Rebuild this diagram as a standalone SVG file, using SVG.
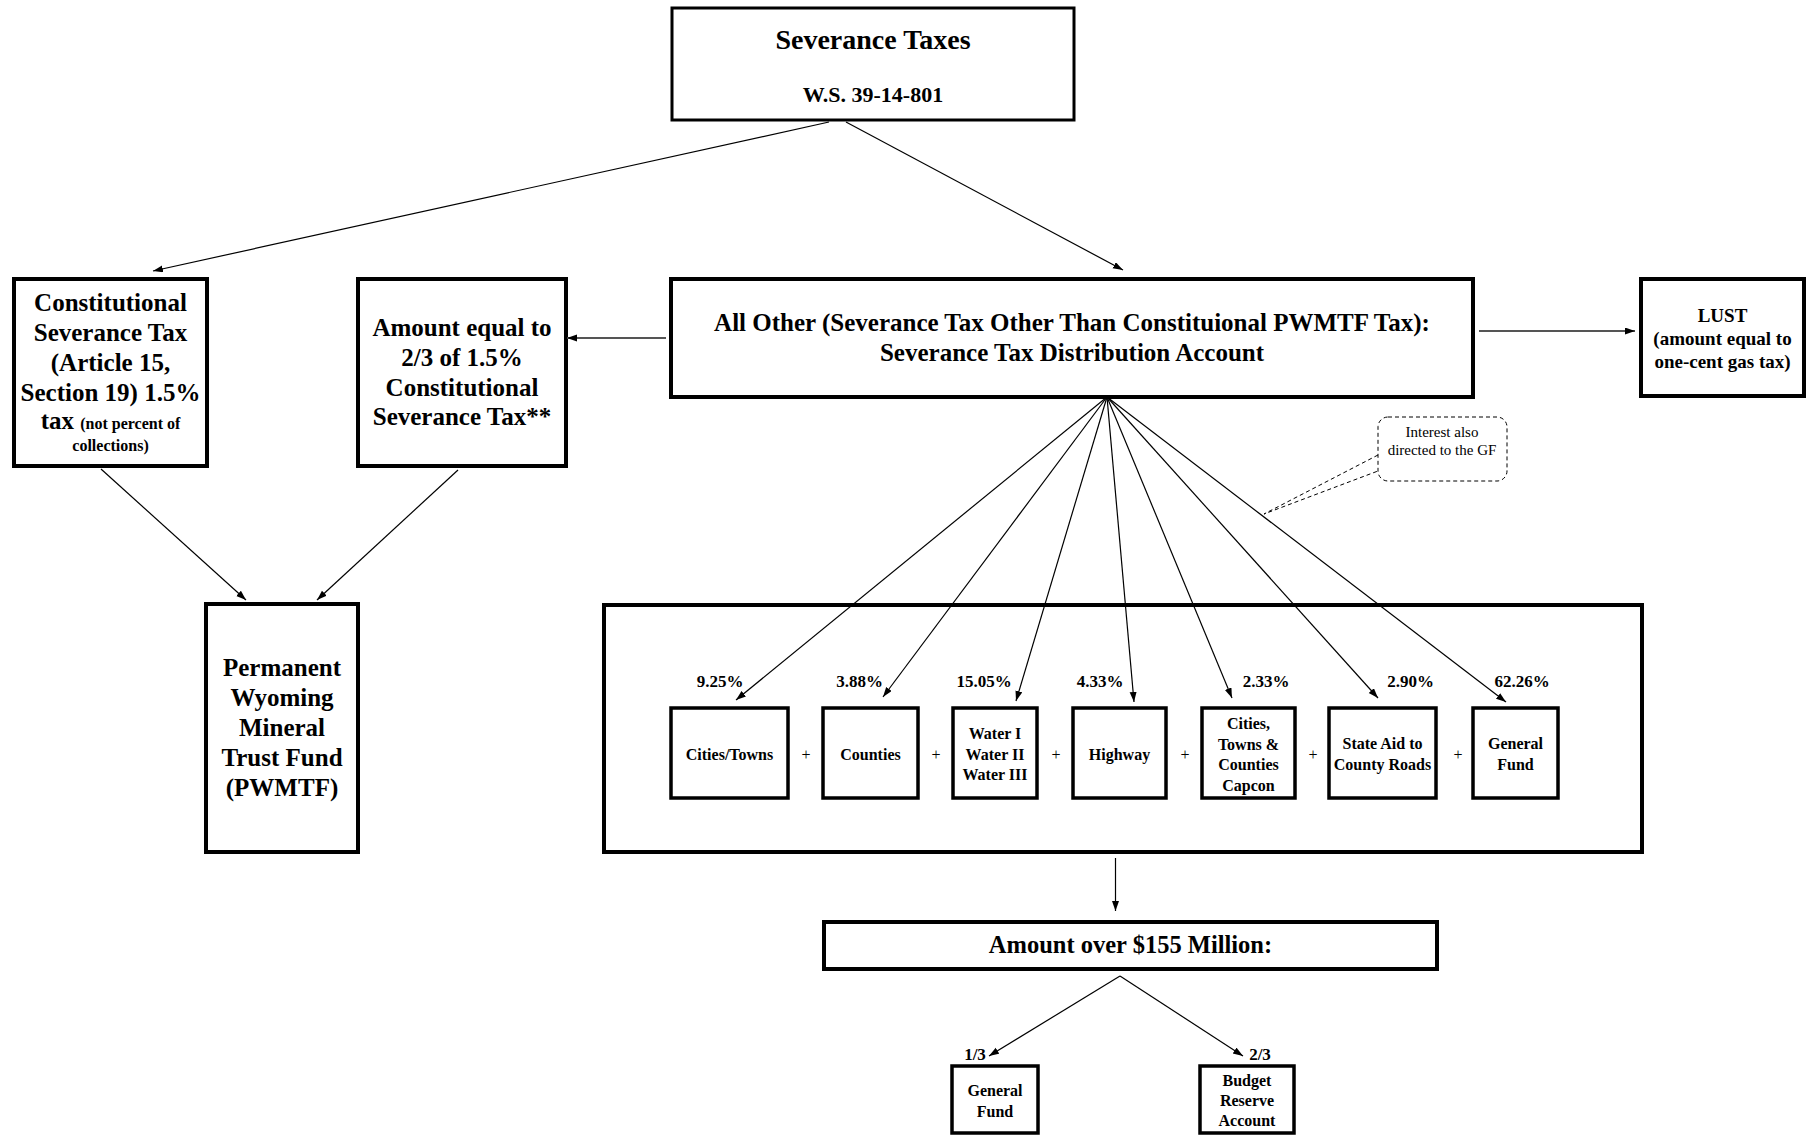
<svg xmlns="http://www.w3.org/2000/svg" width="1807" height="1135" viewBox="0 0 1807 1135">
<style>
.box{fill:#fff;stroke:#000;stroke-width:4}
.sbox{fill:#fff;stroke:#000;stroke-width:3.5}
.t{font-family:"Liberation Serif","Times New Roman",serif;font-weight:bold;fill:#000;text-anchor:middle}
.n{font-family:"Liberation Serif","Times New Roman",serif;fill:#000;text-anchor:middle}
.c{fill:none;stroke:#000;stroke-width:1.2}
.g{fill:none;stroke:#555;stroke-width:1.8}
.d{fill:none;stroke:#000;stroke-width:1;stroke-dasharray:4 3}
</style>
<defs>
<marker id="ah" markerUnits="userSpaceOnUse" markerWidth="11" markerHeight="8" refX="10" refY="3.5" orient="auto">
<path d="M0,0 L10,3.5 L0,7 z" fill="#000"/>
</marker>
</defs>
<g id="severance-taxes">
<rect class="box" style="stroke-width:3" x="672" y="8" width="402" height="112"/>
<text class="t" x="873" y="49" font-size="28">Severance Taxes</text>
<text class="t" x="873" y="102" font-size="22">W.S. 39-14-801</text>
</g>
<g id="constitutional">
<rect class="box" x="14" y="279" width="193" height="187"/>
<text class="t" x="110.5" font-size="25"><tspan x="110.5" y="311">Constitutional</tspan><tspan x="110.5" y="341">Severance Tax</tspan><tspan x="110.5" y="371">(Article 15,</tspan><tspan x="110.5" y="401">Section 19) 1.5%</tspan></text>
<text class="t" x="110.5" y="429" font-size="25">tax <tspan font-size="16">(not percent of</tspan></text>
<text class="t" x="110.5" y="451" font-size="16">collections)</text>
</g>
<g id="amount-equal">
<rect class="box" x="358" y="279" width="208" height="187"/>
<text class="t" font-size="25"><tspan x="462" y="336">Amount equal to</tspan><tspan x="462" y="366">2/3 of 1.5%</tspan><tspan x="462" y="396">Constitutional</tspan><tspan x="462" y="425">Severance Tax**</tspan></text>
</g>
<g id="all-other">
<rect class="box" x="671" y="279" width="802" height="118"/>
<text class="t" font-size="25"><tspan x="1072" y="331">All Other (Severance Tax Other Than Constituional PWMTF Tax):</tspan><tspan x="1072" y="361">Severance Tax Distribution Account</tspan></text>
</g>
<g id="lust">
<rect class="box" x="1641" y="279" width="163" height="117"/>
<text class="t" font-size="19"><tspan x="1722.5" y="322">LUST</tspan><tspan x="1722.5" y="345">(amount equal to</tspan><tspan x="1722.5" y="368">one-cent gas tax)</tspan></text>
</g>
<g id="interest-note">
<rect class="d" x="1378" y="417" width="129" height="64" rx="10"/>
<polyline class="d" points="1378,455 1264,514 1378,471"/>
<text class="n" font-size="15"><tspan x="1442" y="437">Interest also</tspan><tspan x="1442" y="455">directed to the GF</tspan></text>
</g>
<g id="pwmtf">
<rect class="box" x="206" y="604" width="152" height="248"/>
<text class="t" font-size="25"><tspan x="282" y="676">Permanent</tspan><tspan x="282" y="706">Wyoming</tspan><tspan x="282" y="736">Mineral</tspan><tspan x="282" y="766">Trust Fund</tspan><tspan x="282" y="796">(PWMTF)</tspan></text>
</g>
<g id="distribution">
<rect class="box" x="604" y="605" width="1038" height="247"/>
<g class="t" font-size="17">
<text x="720" y="687">9.25%</text>
<text x="859.5" y="687">3.88%</text>
<text x="984" y="687">15.05%</text>
<text x="1100" y="687">4.33%</text>
<text x="1266" y="687">2.33%</text>
<text x="1410.5" y="687">2.90%</text>
<text x="1522" y="687">62.26%</text>
</g>
<g class="n" font-size="16">
<text x="806" y="760">+</text>
<text x="936" y="760">+</text>
<text x="1056" y="760">+</text>
<text x="1185" y="760">+</text>
<text x="1313" y="760">+</text>
<text x="1458" y="760">+</text>
</g>
</g>
<g id="cities-towns">
<rect class="sbox" x="671" y="708" width="117" height="90"/>
<text class="t" x="729.5" y="759.5" font-size="16">Cities/Towns</text>
</g>
<g id="counties">
<rect class="sbox" x="823" y="708" width="95" height="90"/>
<text class="t" x="870.5" y="759.5" font-size="16">Counties</text>
</g>
<g id="water">
<rect class="sbox" x="953" y="708" width="84" height="90"/>
<text class="t" font-size="16"><tspan x="995" y="739">Water I</tspan><tspan x="995" y="759.5">Water II</tspan><tspan x="995" y="780">Water III</tspan></text>
</g>
<g id="highway">
<rect class="sbox" x="1073" y="708" width="93" height="90"/>
<text class="t" x="1119.5" y="759.5" font-size="16">Highway</text>
</g>
<g id="capcon">
<rect class="sbox" x="1202" y="708" width="93" height="90"/>
<text class="t" font-size="16"><tspan x="1248.5" y="729">Cities,</tspan><tspan x="1248.5" y="749.5">Towns &amp;</tspan><tspan x="1248.5" y="770">Counties</tspan><tspan x="1248.5" y="790.5">Capcon</tspan></text>
</g>
<g id="state-aid">
<rect class="sbox" x="1329" y="708" width="107" height="90"/>
<text class="t" font-size="16"><tspan x="1382.5" y="749">State Aid to</tspan><tspan x="1382.5" y="769.5">County Roads</tspan></text>
</g>
<g id="general-fund-dist">
<rect class="sbox" x="1473" y="708" width="85" height="90"/>
<text class="t" font-size="16"><tspan x="1515.5" y="749">General</tspan><tspan x="1515.5" y="769.5">Fund</tspan></text>
</g>
<g id="amount-over">
<rect class="box" x="824" y="922" width="613" height="47"/>
<text class="t" x="1130.5" y="953" font-size="24.5">Amount over $155 Million:</text>
</g>
<g id="general-fund">
<text class="t" x="975" y="1060" font-size="17">1/3</text>
<rect class="sbox" x="952" y="1066" width="86" height="67"/>
<text class="t" font-size="16"><tspan x="995" y="1096">General</tspan><tspan x="995" y="1116.5">Fund</tspan></text>
</g>
<g id="budget-reserve">
<text class="t" x="1260" y="1060" font-size="17">2/3</text>
<rect class="sbox" x="1200" y="1066" width="94" height="67"/>
<text class="t" font-size="16"><tspan x="1247" y="1086">Budget</tspan><tspan x="1247" y="1106">Reserve</tspan><tspan x="1247" y="1126">Account</tspan></text>
</g>
<g id="connectors">
<line class="c" x1="829" y1="122" x2="153" y2="271" marker-end="url(#ah)"/>
<line class="c" x1="846" y1="122" x2="1123" y2="270" marker-end="url(#ah)"/>
<line class="g" x1="666" y1="338" x2="567" y2="338" marker-end="url(#ah)"/>
<line class="g" x1="1479" y1="331" x2="1635" y2="331" marker-end="url(#ah)"/>
<line class="c" x1="101" y1="469" x2="246" y2="600" marker-end="url(#ah)"/>
<line class="c" x1="458" y1="470" x2="317" y2="600" marker-end="url(#ah)"/>
<line class="c" x1="1107" y1="397" x2="736" y2="700" marker-end="url(#ah)"/>
<line class="c" x1="1107" y1="397" x2="883" y2="697" marker-end="url(#ah)"/>
<line class="c" x1="1107" y1="397" x2="1016" y2="701" marker-end="url(#ah)"/>
<line class="c" x1="1107" y1="397" x2="1134" y2="702" marker-end="url(#ah)"/>
<line class="c" x1="1107" y1="397" x2="1232" y2="698" marker-end="url(#ah)"/>
<line class="c" x1="1107" y1="397" x2="1378" y2="698" marker-end="url(#ah)"/>
<line class="c" x1="1107" y1="397" x2="1506" y2="702" marker-end="url(#ah)"/>
<line class="c" x1="1115.5" y1="858" x2="1115.5" y2="911" marker-end="url(#ah)"/>
<line class="c" x1="1120" y1="976" x2="989" y2="1056" marker-end="url(#ah)"/>
<line class="c" x1="1120" y1="976" x2="1243" y2="1056" marker-end="url(#ah)"/>
</g>
</svg>
